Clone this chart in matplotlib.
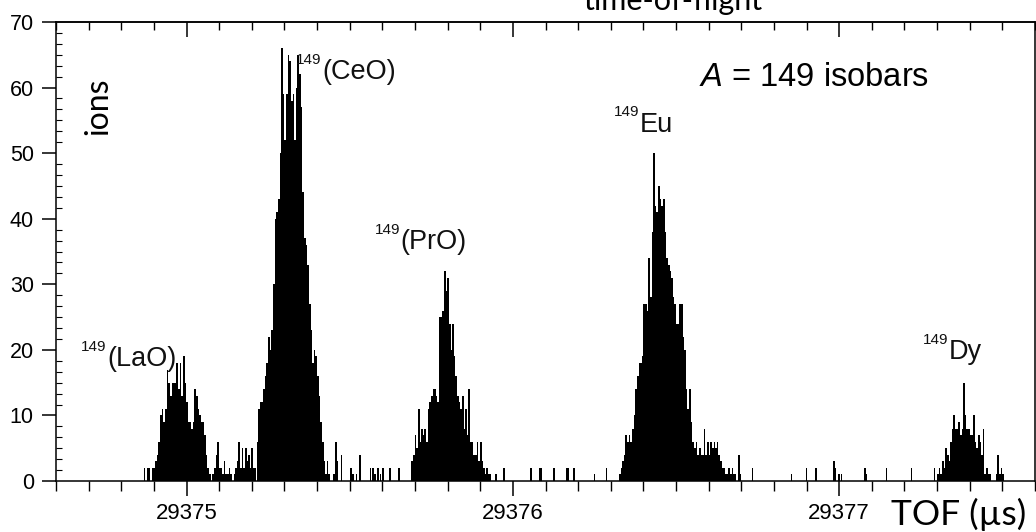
import matplotlib
matplotlib.use("Agg")
import matplotlib.pyplot as plt
from matplotlib.ticker import MultipleLocator, AutoMinorLocator, FormatStrFormatter, NullFormatter
import numpy as np

plt.rcParams['font.family'] = ['Liberation Sans', 'DejaVu Sans']
plt.rcParams['mathtext.fontset'] = 'custom'
plt.rcParams['mathtext.rm'] = 'Liberation Sans'
plt.rcParams['mathtext.it'] = 'Liberation Sans:italic'

# channel width of the TOF histogram (us)
bin_width = 0.005

# 149(LaO) peak + noise up to the CeO peak
lao_start = 29374.869
lao_counts = [2, 0, 2, 2, 0, 2,
              2, 3, 4, 6, 10, 11, 9, 11, 17, 15, 13, 15, 15, 15, 18, 14, 18, 13, 19, 15,
              12, 9, 9, 8, 9, 14, 13, 11, 10, 9, 9, 7, 4, 2, 1, 0,
              1, 2, 4, 6, 2, 2, 1, 3, 1, 1, 2, 1, 0, 1, 2, 3, 6, 2, 5, 2, 5, 3, 4, 2, 5, 2, 2]

# 149(CeO)
ceo_start = 29375.215
ceo_counts = [6, 11, 12, 12, 14, 16, 18, 22, 20, 23, 30, 40, 41, 43, 50, 66,
              59, 52, 59, 65, 64, 58, 59, 52, 60, 65, 62, 57, 44, 37, 36, 33, 27, 23,
              18, 20, 19, 16, 13, 9, 6, 3, 1, 3, 1, 0, 0, 1, 6, 3]

# 149(PrO)
pro_start = 29375.689
pro_counts = [3, 4, 7, 5, 11, 6, 8, 7, 8, 6, 11, 12, 13, 14, 14, 13, 12, 25, 25, 26,
              32, 29, 31, 24, 20, 24, 19, 16, 13, 12, 11, 13, 8, 11, 7, 14, 6, 6, 4, 4,
              6, 3, 6, 3, 2, 1, 2, 1, 1, 0]

# 149Eu
eu_start = 29376.325
eu_counts = [1, 2, 3, 4, 7, 6, 7, 6, 8, 10, 14, 16, 18, 18, 19, 27, 27, 26, 34, 28,
             38, 50, 42, 41, 45, 43, 42, 43, 38, 34, 33, 32, 31, 28, 27, 24, 24, 27, 27, 22,
             20, 14, 11, 14, 9, 6, 5, 6, 4, 5, 4, 4, 8, 4, 6, 4, 6, 5, 6, 5,
             6, 4, 3, 2, 2, 1, 1, 2, 1, 2, 1, 1, 0, 4, 1, 0]

# 149Dy
dy_start = 29377.300
dy_counts = [1, 2, 1, 3, 2, 5, 4, 3, 6, 8, 10, 8, 8, 9, 7, 8, 15, 10, 8, 8,
             7, 7, 10, 6, 5, 7, 6, 4, 8, 1, 2, 1, 1, 0, 0, 0, 1, 4, 1, 2, 1, 0]

# isolated background events between the peaks
noise_tof = [29375.472, 29375.502, 29375.508, 29375.518, 29375.530, 29375.561, 29375.569,
             29375.575, 29375.584, 29375.592, 29375.600, 29375.621, 29375.648,
             29375.946, 29375.971, 29376.053, 29376.080, 29376.085, 29376.123, 29376.162,
             29376.167, 29376.185, 29376.248, 29376.284,
             29376.732, 29376.851, 29376.897, 29376.926, 29376.981, 29376.986, 29376.997,
             29377.005, 29377.076, 29377.081, 29377.142, 29377.219, 29377.290]
noise_counts = [4, 2, 1, 1, 4, 2, 2, 1, 2, 1, 2, 2, 2,
                1, 2, 2, 2, 2, 2, 2, 2, 2, 1, 2,
                2, 1, 2, 2, 3, 2, 1, 1, 2, 1, 2, 2, 2]

# label name, x (TOF), baseline (ions)
labels = [('(LaO)', 29374.757, 17.5),
          ('(CeO)', 29375.416, 61.3),
          ('(PrO)', 29375.656, 35.4),
          ('Eu', 29376.390, 53.3),
          ('Dy', 29377.336, 18.6)]

fig = plt.figure(figsize=(10.36, 5.32), dpi=100)
ax = fig.add_axes([56 / 1036, 51 / 532, 979 / 1036, 459 / 532])

segments = [(lao_start, lao_counts), (ceo_start, ceo_counts), (pro_start, pro_counts),
            (eu_start, eu_counts), (dy_start, dy_counts)]
for start, counts in segments:
    edges = start + bin_width * np.arange(len(counts) + 1)
    ax.stairs(counts, edges, fill=True, color='black', linewidth=0)
ax.bar(noise_tof, noise_counts, width=bin_width, align='edge', color='black', linewidth=0)

ax.set_xlim(29374.6, 29377.6)
ax.set_ylim(0, 70)

# axis / ticks
for s in ax.spines.values():
    s.set_linewidth(1.1)
ax.xaxis.set_major_locator(MultipleLocator(1))
ax.xaxis.set_minor_locator(MultipleLocator(0.1))
ax.xaxis.set_major_formatter(FormatStrFormatter('%d'))
ax.yaxis.set_major_locator(MultipleLocator(10))
ax.yaxis.set_minor_locator(AutoMinorLocator(6))
ax.tick_params(axis='x', which='major', direction='out', length=11, width=1.1, labelsize=16, pad=5, top=False)
ax.tick_params(axis='x', which='minor', direction='out', length=7, width=1.0, top=False)
ax.tick_params(axis='y', which='major', direction='out', length=10, width=1.1, labelsize=15.5, pad=6, right=False)
ax.tick_params(axis='y', which='minor', direction='in', length=4, width=0.8, right=False)

top = ax.secondary_xaxis('top')
top.xaxis.set_major_locator(MultipleLocator(1))
top.xaxis.set_minor_locator(MultipleLocator(0.1))
top.xaxis.set_major_formatter(NullFormatter())
top.tick_params(which='major', direction='in', length=11, width=1.1)
top.tick_params(which='minor', direction='in', length=6, width=1.0)
top.spines['top'].set_linewidth(1.1)

# peak labels with mass number superscript
for name, x, y in labels:
    ax.text(x, y, name, fontsize=19.5, ha='left', va='baseline', color='#111111')
    ax.annotate('149', (x, y), xytext=(-0.5, 11), textcoords='offset points',
                fontsize=11, ha='right', va='baseline', color='#111111')

ax.text(29376.570, 60.3, r'$\mathit{A}$ = 149 isobars', fontsize=23.5, ha='left', va='baseline')

fig.text(98.5 / 1036, 1 - 106 / 532, 'ions', rotation=90, family='Lato', fontsize=23,
         ha='center', va='center')
fig.text(891 / 1036, 1 - 525 / 532, 'TOF (\u00b5s)', family='Lato', fontsize=25.5,
         ha='left', va='baseline')
fig.text(673 / 1036, 1 - 10 / 532, 'time-of-flight', family='Lato', fontsize=22,
         ha='center', va='baseline')

fig.savefig('out.png', dpi=100)
